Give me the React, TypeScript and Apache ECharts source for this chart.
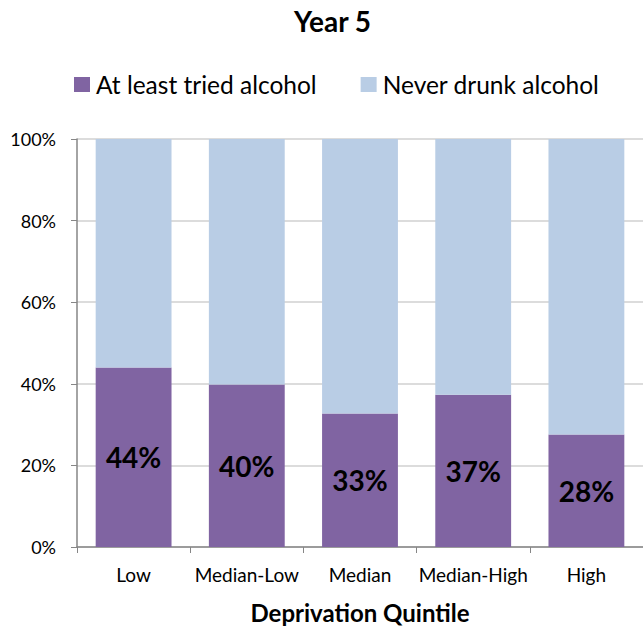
import React, { useEffect, useRef } from "react";
import * as echarts from "echarts";

const categories = ["Low", "Median-Low", "Median", "Median-High", "High"];
const triedAlcohol = [44, 39.8, 32.7, 37.3, 27.6];
const neverDrunk = [56, 60.2, 67.3, 62.7, 72.4];
const seriesNames = ["At least tried alcohol", "Never drunk alcohol"];
const titleText = "Year 5";
const xAxisName = "Deprivation Quintile";

const FONT = "Lato, 'Open Sans', sans-serif";

export default function App() {
  const ref = useRef<HTMLDivElement>(null);
  useEffect(() => {
    if (!ref.current) return;
    const chart = echarts.init(ref.current, undefined, { renderer: "svg" });
    chart.setOption({
      animation: false,
      backgroundColor: "#ffffff",
      title: {
        text: titleText,
        left: 294,
        top: 7,
        padding: 0,
        textStyle: { fontFamily: FONT, fontSize: 28, fontWeight: "bold", color: "#000" },
      },
      legend: {
        top: 72,
        left: 74,
        padding: 0,
        itemWidth: 16,
        itemHeight: 15,
        itemGap: 44,
        icon: "rect",
        textStyle: { fontFamily: FONT, fontSize: 24.5, color: "#000", padding: [0, 0, 0, 1] },
        data: seriesNames,
      },
      grid: { left: 77, right: 0, top: 139, bottom: 77, containLabel: false },
      xAxis: {
        type: "category",
        data: categories,
        name: xAxisName,
        nameLocation: "middle",
        nameGap: 53,
        nameTextStyle: { fontFamily: FONT, fontSize: 24, fontWeight: "bold", color: "#000" },
        axisLine: { lineStyle: { color: "#868686", width: 1.5 } },
        axisTick: { show: true, length: 6, lineStyle: { color: "#868686" } },
        axisLabel: { fontFamily: FONT, fontSize: 19, color: "#000", margin: 18, interval: 0 },
      },
      yAxis: {
        type: "value",
        min: 0,
        max: 100,
        interval: 20,
        axisLine: { show: true, lineStyle: { color: "#868686", width: 1.5 } },
        axisTick: { show: true, length: 6, lineStyle: { color: "#868686" } },
        axisLabel: { fontFamily: FONT, fontSize: 18, color: "#000", formatter: "{value}%", margin: 21 },
        splitLine: { show: true, lineStyle: { color: "#d0d0d0", width: 1.5 } },
      },
      series: [
        {
          name: seriesNames[0],
          type: "bar",
          stack: "total",
          data: triedAlcohol,
          barCategoryGap: "33%",
          itemStyle: { color: "#8064A2" },
          label: {
            show: true,
            position: "inside",
            formatter: (p: any) => Math.round(p.value) + "%",
            fontFamily: FONT,
            fontSize: 28,
            fontWeight: "bold",
            color: "#000",
          },
        },
        {
          name: seriesNames[1],
          type: "bar",
          stack: "total",
          data: neverDrunk,
          barCategoryGap: "33%",
          itemStyle: { color: "#B9CDE5" },
        },
      ],
    });
    return () => chart.dispose();
  }, []);
  return (
    <div
      ref={ref}
      style={{ position: "fixed", left: 0, top: 0, width: 643, height: 629 }}
    />
  );
}
